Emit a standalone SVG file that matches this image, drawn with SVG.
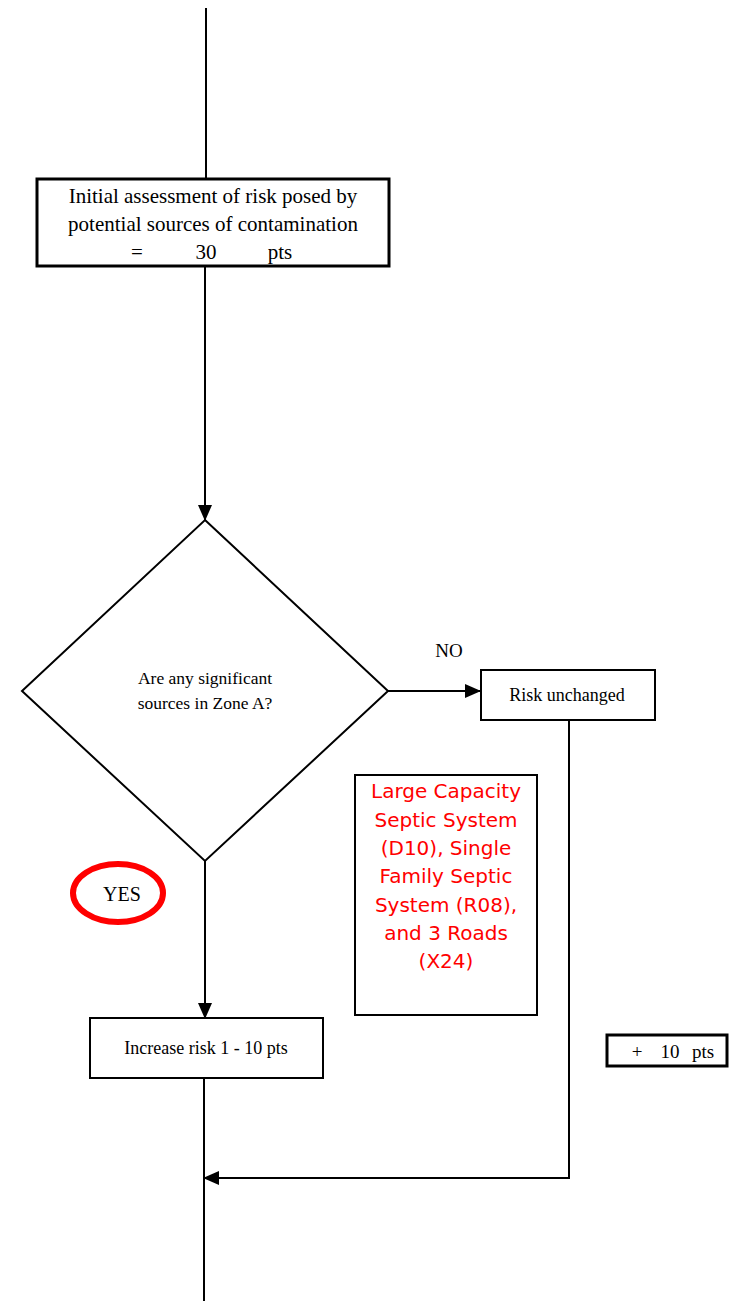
<svg xmlns="http://www.w3.org/2000/svg" width="740" height="1301" viewBox="0 0 740 1301">
<style>
.ln{stroke:#000;stroke-width:2;fill:none}
.bx{fill:#fff;stroke:#000;stroke-width:2}
.bx3{fill:#fff;stroke:#000;stroke-width:3}
.t{font-family:"Liberation Serif","Times New Roman",serif;fill:#000;text-anchor:middle}
.r{font-family:"DejaVu Sans",Verdana,sans-serif;fill:#ff0000;text-anchor:middle;font-size:20px}
</style>
<defs>
<marker id="ah2" markerWidth="16" markerHeight="16" refX="15" refY="8" orient="auto" markerUnits="userSpaceOnUse" viewBox="0 0 16 16">
<path d="M0,1 L16,8 L0,15 z" fill="#000"/>
</marker>
</defs>
<g id="connectors">
<line class="ln" x1="206" y1="8" x2="206" y2="178"/>
<line class="ln" x1="205" y1="266" x2="205" y2="520" marker-end="url(#ah2)"/>
<line class="ln" x1="388" y1="691" x2="480" y2="691" marker-end="url(#ah2)"/>
<line class="ln" x1="205" y1="861" x2="205" y2="1018" marker-end="url(#ah2)"/>
<polyline class="ln" points="569,720 569,1178 204,1178" marker-end="url(#ah2)"/>
<line class="ln" x1="204" y1="1078" x2="204" y2="1301"/>
<text class="t" x="449" y="657" font-size="19">NO</text>
</g>
<g id="initial">
<rect class="bx3" x="37" y="179" width="352" height="87"/>
<text class="t" x="213" y="203" font-size="21">Initial assessment of risk posed by</text>
<text class="t" x="213" y="231" font-size="21">potential sources of contamination</text>
<text class="t" font-size="21" y="259"><tspan x="137">=</tspan><tspan x="206">30</tspan><tspan x="280">pts</tspan></text>
</g>
<g id="decision">
<polygon class="bx" points="205,520 388,691 205,861 22,691"/>
<text class="t" x="205" y="684" font-size="17.5">Are any significant</text>
<text class="t" x="205" y="709" font-size="17.5">sources in Zone A?</text>
</g>
<g id="unchanged">
<rect class="bx" x="481" y="670" width="174" height="50"/>
<text class="t" x="567" y="701" font-size="18">Risk unchanged</text>
</g>
<g id="sources">
<rect class="bx" x="355" y="775" width="182" height="240"/>
<text class="r" x="446" y="798">Large Capacity</text>
<text class="r" x="446" y="827">Septic System</text>
<text class="r" x="446" y="855">(D10), Single</text>
<text class="r" x="446" y="883">Family Septic</text>
<text class="r" x="446" y="912">System (R08),</text>
<text class="r" x="446" y="940">and 3 Roads</text>
<text class="r" x="446" y="968">(X24)</text>
</g>
<g id="yes">
<ellipse cx="118" cy="893" rx="45" ry="29" fill="none" stroke="#ff0000" stroke-width="6"/>
<text class="t" x="122" y="901" font-size="20">YES</text>
</g>
<g id="increase">
<rect class="bx" x="90" y="1018" width="233" height="60"/>
<text class="t" x="206" y="1054" font-size="18">Increase risk 1 - 10 pts</text>
</g>
<g id="plus10">
<rect class="bx3" x="607" y="1035" width="120" height="31"/>
<text class="t" font-size="19" y="1058"><tspan x="637">+</tspan><tspan x="670">10</tspan><tspan x="703">pts</tspan></text>
</g>
</svg>
